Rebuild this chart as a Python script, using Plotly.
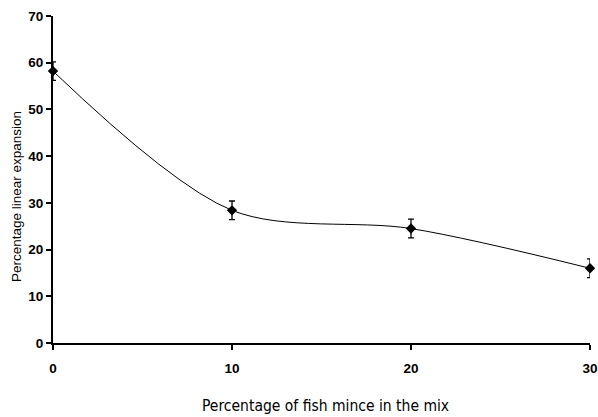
import plotly.graph_objects as go

x_vals = [0, 10, 20, 30]
y_vals = [58.2, 28.4, 24.5, 16.0]
err_vals = [2.0, 2.0, 2.0, 2.0]
x_ticks = [0, 10, 20, 30]
y_ticks = [0, 10, 20, 30, 40, 50, 60, 70]
x_title = "Percentage of fish mince in the mix"
y_title = "Percentage linear expansion"

W, H = 598, 417
ML, MR, MT, MB = 53, 8, 16, 74
PW, PH = W - ML - MR, H - MT - MB

fig = go.Figure()
fig.add_trace(go.Scatter(
    x=x_vals, y=y_vals,
    mode="lines+markers",
    line=dict(color="black", width=1, shape="spline", smoothing=0.9),
    marker=dict(symbol="diamond", size=8, color="black"),
    error_y=dict(type="data", array=err_vals, visible=True, color="black", thickness=1.3, width=3),
    cliponaxis=False,
    showlegend=False,
))

fig.update_layout(
    width=W, height=H,
    margin=dict(l=ML, r=MR, t=MT, b=MB, autoexpand=False),
    paper_bgcolor="white", plot_bgcolor="white",
    font=dict(family="Liberation Sans", color="black", size=13),
)
fig.update_xaxes(
    range=[0, 30], tickvals=x_ticks, ticks="outside", ticklen=5, tickwidth=2, tickcolor="black",
    showline=True, linecolor="black", linewidth=2, showgrid=False, zeroline=False,
    ticklabelstandoff=7, automargin=False,
    tickfont=dict(size=13.5, family="Liberation Sans", weight="bold"),
)
fig.update_yaxes(
    range=[0, 70], tickvals=y_ticks, ticks="outside", ticklen=5, tickwidth=2, tickcolor="black",
    showline=True, linecolor="black", linewidth=2, showgrid=False, zeroline=False,
    automargin=False,
    tickfont=dict(size=13.5, family="Liberation Sans", weight="bold"),
)
fig.add_annotation(
    text=x_title, xref="paper", yref="paper",
    x=(325 - ML) / PW, y=(H - MB - 406) / PH, xanchor="center", yanchor="middle",
    showarrow=False, font=dict(size=15.5, family="DejaVu Sans Condensed", color="black"),
)
fig.add_annotation(
    text=y_title, xref="paper", yref="paper", textangle=-90,
    x=(17 - ML) / PW, y=(H - MB - 197) / PH, xanchor="center", yanchor="middle",
    showarrow=False, font=dict(size=13.5, family="Liberation Sans", color="black"),
)
fig.write_html("out.html")
